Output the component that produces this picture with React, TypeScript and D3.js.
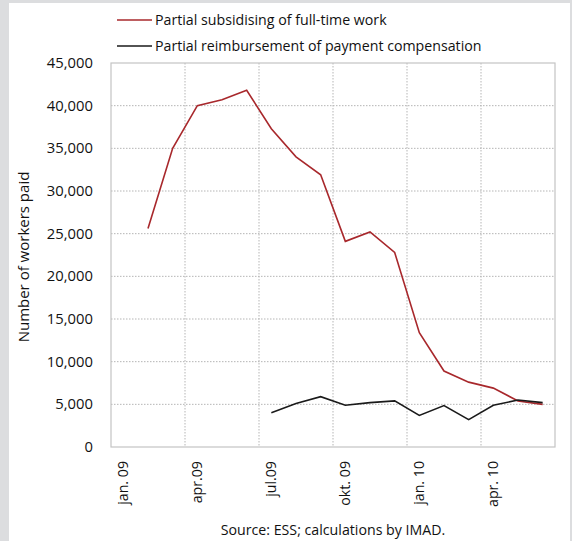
import React from "react";
import * as d3 from "d3";

const months = ["jan. 09","feb. 09","mar. 09","apr.09","may.09","jun.09","jul.09","aug.09","sep.09","okt. 09","nov.09","dec.09","jan. 10","feb.10","mar.10","apr. 10","may.10","jun.10"];
const tickLabels: Record<number, string> = {0:"jan. 09",3:"apr.09",6:"jul.09",9:"okt. 09",12:"jan. 10",15:"apr. 10"};
const subsidising: (number|null)[] = [null,25600,35000,40000,40700,41800,37300,34000,31900,24100,25200,22800,13400,8900,7600,6900,5400,5000];
const reimbursement: (number|null)[] = [null,null,null,null,null,null,4000,5100,5900,4900,5200,5400,3700,4850,3200,4900,5500,5200];
const yTicks = [0,5000,10000,15000,20000,25000,30000,35000,40000,45000];
const seriesNames = ["Partial subsidising of full-time work","Partial reimbursement of payment compensation"];
const colors = ["#a8282c","#1a1a1a"];

export default function App() {
  const W = 572, H = 541;
  const left = 111, right = 555, top = 63, bottom = 447;
  const x = d3.scaleBand<number>().domain(months.map((_, i) => i)).range([left, right]).paddingInner(0).paddingOuter(0);
  const y = d3.scaleLinear().domain([0, 45000]).range([bottom, top]);
  const cx = (i: number) => (x(i) as number) + x.bandwidth() / 2;
  const line = d3.line<number|null>().defined(d => d != null).x((_, i) => cx(i)).y(d => y(d as number));
  const font = "'Open Sans', 'Noto Sans', sans-serif";
  const fmt = d3.format(",");
  const fs = 14.2;
  return (
    <svg width={W} height={H} style={{position:"absolute", left:0, top:0, display:"block"}} fontFamily={font}>
      <rect x={0} y={0} width={W} height={H} fill="#dcdddf" />
      <rect x={9} y={3} width={W - 11} height={H - 3} fill="#ffffff" />
      {/* grid */}
      {yTicks.slice(1, -1).map(t => (
        <line key={"h"+t} x1={left} x2={right} y1={y(t)} y2={y(t)} stroke="#b5b5b5" strokeWidth={1} strokeDasharray="1.5,1.5" />
      ))}
      {[3,6,9,12,15].map(i => (
        <line key={"v"+i} x1={x(i) as number} x2={x(i) as number} y1={top} y2={bottom} stroke="#b5b5b5" strokeWidth={1} strokeDasharray="1.5,1.5" />
      ))}
      <rect x={left} y={top} width={right - left} height={bottom - top} fill="none" stroke="#c4c4c4" strokeWidth={1.2} />
      {/* y axis labels */}
      {yTicks.map(t => (
        <text key={"yl"+t} x={93} y={y(t) + 5} textAnchor="end" fontSize={14.8} fill="#111">{fmt(t)}</text>
      ))}
      <text transform={`translate(29,257) rotate(-90)`} textAnchor="middle" fontSize={15} fill="#111">Number of workers paid</text>
      {/* x labels */}
      {Object.entries(tickLabels).map(([k, v]) => (
        <text key={"xl"+k} transform={`translate(${cx(+k) + 5},461) rotate(-90)`} textAnchor="end" fontSize={fs} fill="#111">{v}</text>
      ))}
      {/* lines */}
      <path d={line(subsidising) || ""} fill="none" stroke={colors[0]} strokeWidth={1.6} />
      <path d={line(reimbursement) || ""} fill="none" stroke={colors[1]} strokeWidth={1.6} />
      {/* legend */}
      {seriesNames.map((n, i) => (
        <g key={n}>
          <line x1={117} x2={152} y1={20 + i*26} y2={20 + i*26} stroke={colors[i]} strokeWidth={1.6} />
          <text x={155} y={25 + i*26} fontSize={fs} fill="#111">{n}</text>
        </g>
      ))}
      <text x={333} y={535} textAnchor="middle" fontSize={fs} fill="#111">Source: ESS; calculations by IMAD.</text>
    </svg>
  );
}
